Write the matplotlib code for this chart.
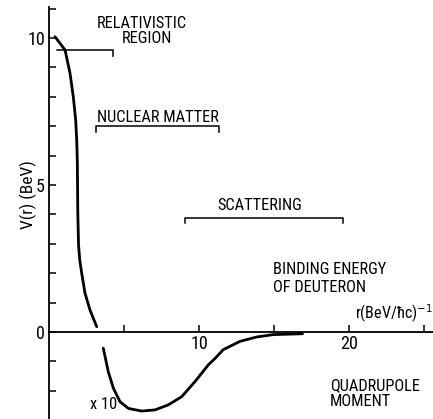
import matplotlib
matplotlib.use("Agg")
import matplotlib.pyplot as plt

# repulsive core, full scale: r in (BeV/hbar c)^-1, V in BeV
r_core = [0.4, 0.73, 1.07, 1.4, 1.62, 1.78, 1.85, 1.89, 1.9, 1.92, 1.97,
          2.05, 2.18, 2.4, 2.73, 3.18]
v_core = [10.04, 9.82, 9.59, 8.8, 8.0, 7.2, 6.5, 5.75, 5.15, 4.05, 2.95,
          2.45, 2.0, 1.32, 0.75, 0.18]

# attractive tail, drawn magnified x10
r_tail = [3.62, 3.95, 4.29, 4.73, 5.29, 6.18, 7.07, 7.95, 8.85, 9.73, 10.62,
          11.07, 11.62, 12.73, 13.85, 14.95, 16.9]
v_tail = [-0.55, -1.35, -1.91, -2.37, -2.6, -2.69, -2.65, -2.48, -2.2, -1.69,
          -1.12, -0.9, -0.6, -0.32, -0.17, -0.09, -0.06]

x_ticks = [5, 10, 15, 20, 25]
x_ticklabels = ["", "10", "", "20", ""]
y_ticks = list(range(-2, 12))
y_ticklabels = ["0" if v == 0 else "5" if v == 5 else "10" if v == 10 else ""
                for v in y_ticks]

# ranges probed by each kind of data
bracket_names = ["relativistic", "nuclear", "scattering"]
bracket_r0 = [0.5, 3.13, 9.07]
bracket_r1 = [4.27, 11.33, 19.6]
bracket_v = [9.59, 7.0, 3.89]

# first narrow face that exists wins
FONT = ["Roboto Condensed", "DejaVu Sans Condensed", "Liberation Sans Narrow",
        "Roboto", "DejaVu Sans"]
plt.rcParams["font.family"] = FONT
plt.rcParams["font.stretch"] = "condensed"

fig = plt.figure(figsize=(4.33, 4.19), dpi=100)
ax = fig.add_axes([49 / 433, 0, 1 - 49 / 433, 1])
ax.set_xlim(0, 25.6)
ax.set_ylim(-2.96, 11.29)

for s in ("top", "right"):
    ax.spines[s].set_visible(False)
ax.spines["bottom"].set_position(("data", 0))
ax.spines["left"].set_bounds(-2.96, 11.05)
for s in ("bottom", "left"):
    ax.spines[s].set_linewidth(1.3)

ax.set_xticks(x_ticks, x_ticklabels)
ax.set_yticks(y_ticks, y_ticklabels)
ax.tick_params(direction="in", length=5, width=1.1, labelsize=13, pad=2)
ax.tick_params(axis="y", pad=3)

ax.plot(r_core, v_core, color="black", lw=2.0, solid_capstyle="round")
ax.plot(r_tail, v_tail, color="black", lw=2.0, solid_capstyle="round")

tick = 0.2
for name, r0, r1, v in zip(bracket_names, bracket_r0, bracket_r1, bracket_v):
    if name == "relativistic":
        xs, ys = [r0, r1, r1], [v, v, v - tick]
    else:
        xs, ys = [r0, r0, r1, r1], [v - tick, v, v, v - tick]
    ax.plot(xs, ys, color="black", lw=1.1)

kw = dict(fontsize=11.8, color="black", va="baseline")
ax.text(6.2, 10.34, "RELATIVISTIC", ha="center", **kw)
ax.text(6.53, 9.83, "REGION", ha="center", **kw)
ax.text(3.2, 7.14, "NUCLEAR MATTER", ha="left", **kw)
ax.text(14.03, 4.15, "SCATTERING", ha="center", **kw)
ax.text(14.93, 1.97, "BINDING ENERGY", ha="left", **kw)
ax.text(14.93, 1.36, "OF DEUTERON", ha="left", **kw)
ax.text(18.73, -1.97, "QUADRUPOLE", ha="left", **kw)
ax.text(18.73, -2.52, "MOMENT", ha="left", **kw)
ax.text(2.75, -2.62, "x 10", ha="left", **kw)
ax.text(20.4, 0.44, "r(BeV/ħc)$^{-1}$", ha="left", fontsize=11.5,
        color="black", va="baseline")

fig.text(28 / 433, 1 - 195 / 419, "V(r) (BeV)", rotation=90,
         ha="center", va="center", fontsize=12.5)

fig.savefig("out.png", dpi=100)
